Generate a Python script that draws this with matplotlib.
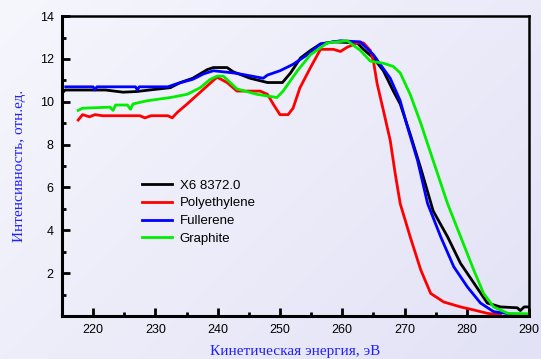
import matplotlib.pyplot as plt
import numpy as np

# data
x_black = [215, 215.5, 222, 224.8, 227, 229, 232.4, 234, 236, 238.3, 239.3, 241.5, 242.5,
           245.2, 248, 250.4, 251.7, 253.3, 254.9, 256.5, 258.6, 262.4, 263.4, 265, 266.6,
           268.2, 269.3, 270.9, 272.6, 274.6, 276.9, 279, 281.1, 283.3, 285.4, 288.1, 288.6, 289.2, 290]
y_black = [10.4, 10.55, 10.55, 10.45, 10.48, 10.55, 10.66, 10.9, 11.1, 11.5, 11.6, 11.6, 11.4,
           11.1, 10.9, 10.9, 11.35, 12.05, 12.4, 12.7, 12.8, 12.75, 12.45, 12.05, 11.45,
           10.5, 9.9, 8.5, 6.9, 4.9, 3.7, 2.45, 1.55, 0.6, 0.42, 0.38, 0.25, 0.42, 0.42]

x_red = [217.6, 218.3, 219.4, 220.3, 221.5, 227.5, 228.3, 229.3, 232, 232.7, 233.5, 235.1,
         237.2, 239.3, 239.9, 241.5, 243.1, 246.8, 248, 248.9, 250, 251.3, 252.1, 253.2,
         254.9, 256.5, 258.6, 259.7, 260.8, 262.4, 263.4, 264.5, 265, 265.6, 266.6, 267.7,
         268.5, 269.3, 270.9, 272.6, 274.2, 276.3, 279, 281.1, 283.3, 285.4]
y_red = [9.15, 9.4, 9.3, 9.4, 9.35, 9.35, 9.25, 9.35, 9.35, 9.25, 9.5, 9.9,
         10.45, 11.0, 11.15, 10.9, 10.5, 10.5, 10.35, 9.9, 9.4, 9.4, 9.7, 10.65,
         11.6, 12.45, 12.45, 12.35, 12.55, 12.75, 12.75, 12.4, 11.9, 10.85, 9.6, 8.2,
         6.65, 5.25, 3.7, 2.15, 1.05, 0.65, 0.42, 0.28, 0.12, 0.05]

x_blue = [215.6, 220, 220.3, 220.6, 226.8, 227.1, 227.4, 232, 233.5, 236, 237.7, 239.3, 242.5,
          243.6, 247.3, 248, 250, 252.1, 254.4, 256.5, 259.7, 262.9, 265, 266.1, 267.7,
          269.3, 270.5, 272.1, 273.7, 275.8, 277.9, 280.1, 282.2, 284.3, 288.1, 290]
y_blue = [10.7, 10.7, 10.55, 10.7, 10.7, 10.55, 10.7, 10.7, 10.85, 11.05, 11.3, 11.45, 11.35,
          11.3, 11.1, 11.25, 11.45, 11.75, 12.2, 12.7, 12.85, 12.8, 12.2, 11.75, 11.1,
          10.05, 8.8, 7.25, 5.25, 3.7, 2.3, 1.35, 0.6, 0.2, 0.05, 0.05]

x_green = [217.6, 218.3, 222.7, 223.2, 223.6, 225.5, 226, 226.4, 228.7, 232.4, 235.1, 237.2,
           238.8, 239.9, 240.9, 243.1, 246.3, 249.5, 250.5, 252.8, 254.9, 257.6, 260.8, 262.9,
           264.5, 266.6, 268.2, 269.3, 270.9, 272.6, 274.2, 276.9, 279, 281.1, 282.7,
           284.3, 286.6, 289.8]
y_green = [9.6, 9.7, 9.75, 9.6, 9.85, 9.85, 9.65, 9.9, 10.05, 10.2, 10.35, 10.66,
           11.05, 11.2, 11.2, 10.6, 10.35, 10.2, 10.5, 11.45, 12.2, 12.75, 12.85, 12.4,
           11.9, 11.8, 11.65, 11.35, 10.35, 9.0, 7.6, 5.25, 3.7, 2.15, 1.05,
           0.42, 0.12, 0.1]

labels = ['X6 8372.0', 'Polyethylene', 'Fullerene', 'Graphite']

fig = plt.figure(figsize=(5.41, 3.59), dpi=100)

# soft lavender gradient background
bg = fig.add_axes([0, 0, 1, 1], zorder=-1)
gx, gy = np.meshgrid(np.linspace(0, 1, 200), np.linspace(0, 1, 200))
bg.imshow(gx * 0.6 + gy * 0.4, cmap=plt.matplotlib.colors.LinearSegmentedColormap.from_list(
    'bgc', ['#f6f6fd', '#e2e2f6']), aspect='auto', extent=[0, 1, 0, 1])
bg.axis('off')

ax = fig.add_axes([0.1146, 0.12, 0.8634, 0.835])
ax.patch.set_alpha(0)

ax.plot(x_black, y_black, color='black', lw=2, label=labels[0])
ax.plot(x_red, y_red, color='#ff0000', lw=2, label=labels[1])
ax.plot(x_blue, y_blue, color='#0000ff', lw=2, label=labels[2])
ax.plot(x_green, y_green, color='#00ee00', lw=2, label=labels[3])

ax.set_xlim(215, 290)
ax.set_ylim(0, 14)
ax.set_xticks(np.arange(220, 291, 10))
ax.set_xticks(np.arange(215, 291, 5), minor=True)
ax.set_yticks(np.arange(2, 15, 2))
ax.set_yticks(np.arange(1, 14, 2), minor=True)
ax.tick_params(which='major', direction='in', length=6, width=2, labelsize=9, pad=6,
               top=False, right=False)
ax.tick_params(which='minor', direction='in', length=3, width=2, top=False, right=False)
for lab in ax.get_xticklabels() + ax.get_yticklabels():
    lab.set_fontfamily('Liberation Sans')
for side in ['left', 'bottom']:
    ax.spines[side].set_linewidth(2.2)
for side in ['top', 'right']:
    ax.spines[side].set_linewidth(1.8)

ax.set_xlabel('Кинетическая энергия, эВ', color='#2020ff', fontfamily='Liberation Serif',
              fontsize=11, labelpad=6)
ax.set_ylabel('Интенсивность, отн.ед.', color='#2020ff', fontfamily='Liberation Serif',
              fontsize=11, labelpad=10)

leg = ax.legend(loc='upper left', bbox_to_anchor=(0.145, 0.495), frameon=False,
                handlelength=2.3, handletextpad=0.6, labelspacing=0.42,
                prop={'family': 'Liberation Sans', 'size': 9.5})

plt.savefig('out.png', dpi=100)
